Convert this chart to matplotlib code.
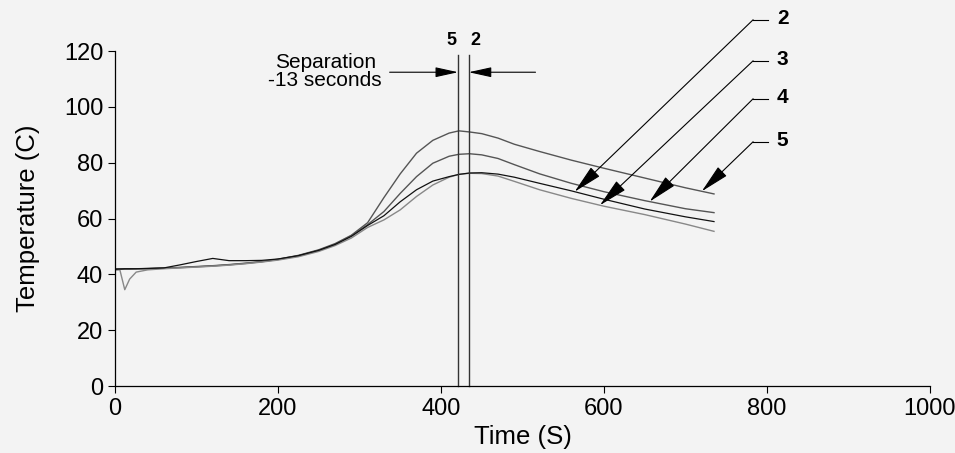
import numpy as np
import matplotlib
matplotlib.use("Agg")
import matplotlib.pyplot as plt

plt.rcParams["font.family"] = ["Liberation Sans", "DejaVu Sans"]

# sample times (s) shared by all thermocouple traces
time_s = [0, 6, 12, 18, 26, 40, 60, 80, 100, 120, 140, 160, 180, 200, 225, 250,
          270, 290, 310, 330, 350, 370, 390, 410, 422, 435, 450, 470, 490, 521,
          560, 600, 650, 700, 735]

# temperatures (C) for thermocouples 2..5
tc5 = [42.0, 42.0, 42.0, 42.0, 42.0, 42.1, 42.3, 42.5, 42.8, 43.1, 43.5, 44.0,
       44.6, 45.4, 46.8, 48.8, 51.0, 54.0, 58.5, 67.5, 76.0, 83.4, 88.0, 90.6,
       91.4, 91.0, 90.4, 88.8, 86.6, 84.0, 80.9, 78.0, 74.5, 71.0, 68.8]
tc4 = [41.8, 41.8, 41.9, 41.9, 42.0, 42.0, 42.2, 42.4, 42.7, 43.0, 43.4, 43.9,
       44.5, 45.3, 46.6, 48.6, 50.8, 53.8, 57.8, 62.5, 69.0, 75.0, 79.8, 82.3,
       83.0, 83.2, 82.8, 81.5, 79.3, 76.0, 72.6, 69.6, 66.4, 63.5, 62.1]
tc2 = [41.8, 41.9, 42.0, 42.0, 42.0, 42.1, 42.3, 43.4, 44.6, 45.7, 44.9, 44.9,
       45.0, 45.5, 46.7, 48.6, 50.7, 53.6, 57.5, 61.0, 66.0, 70.3, 73.4, 75.0,
       75.8, 76.3, 76.4, 75.9, 74.8, 72.6, 69.9, 66.9, 63.4, 60.6, 58.9]
tc3 = [41.5, 41.6, 34.5, 38.3, 40.8, 41.6, 42.0, 42.3, 42.6, 42.9, 43.3, 43.8,
       44.4, 45.1, 46.3, 48.2, 50.3, 53.0, 56.8, 59.5, 63.1, 67.9, 72.0, 74.8,
       75.8, 76.2, 76.1, 75.2, 73.3, 70.3, 67.2, 64.4, 61.4, 58.0, 55.4]

# peak times of thermocouples 5 and 2
peak5 = 421
peak2 = 434

# label -> (series, time the arrow points at, label height)
callouts = {
    "2": (tc2, 564, 131.2),
    "3": (tc3, 595, 116.5),
    "4": (tc4, 656, 102.9),
    "5": (tc5, 720, 87.5),
}

bg = "#f3f3f3"
fig = plt.figure(figsize=(9.55, 4.53), dpi=100, facecolor=bg)
ax = fig.add_axes([0.1204, 0.1479, 0.8534, 0.7395], facecolor=bg)

ax.plot(time_s, tc5, color="#555555", lw=1.0)
ax.plot(time_s, tc4, color="#555555", lw=1.0)
ax.plot(time_s, tc3, color="#888888", lw=1.0)
ax.plot(time_s, tc2, color="#111111", lw=0.9)

# peak markers
for t, lab, dx in [(peak5, "5", -8), (peak2, "2", 8)]:
    ax.plot([t, t], [0, 118.6], color="#333333", lw=1.0, clip_on=False)
    ax.text(t + dx, 123.6, lab, ha="center", va="center", fontsize=13,
            fontweight="bold", clip_on=False)

sep_y = 112.4
for t_tip, t_tail in [(peak5, 337), (peak2, 516)]:
    ax.annotate("", xy=(t_tip, sep_y), xytext=(t_tail, sep_y),
                arrowprops=dict(arrowstyle="-|>,head_length=1.0,head_width=0.22",
                                mutation_scale=14, lw=0.8, color="black",
                                shrinkA=0, shrinkB=0))
ax.text(258, 112.6, "Separation\n-13 seconds", ha="center", va="center",
        fontsize=15, linespacing=0.95)

# numbered callouts with leader lines
for lab, (series, t_tip, y_lab) in callouts.items():
    y_tip = np.interp(t_tip, time_s, series)
    ax.plot([783, 801], [y_lab, y_lab], color="black", lw=0.8, clip_on=False)
    ax.annotate("", xy=(t_tip, y_tip), xytext=(783, y_lab),
                annotation_clip=False,
                arrowprops=dict(arrowstyle="-|>,head_length=1.3,head_width=0.28",
                                mutation_scale=14, lw=0.8, color="black",
                                shrinkA=0, shrinkB=0))
    ax.text(812, y_lab + 0.3, lab, ha="left", va="center", fontsize=15,
            fontweight="bold", clip_on=False)

ax.set_xlim(0, 1000)
ax.set_ylim(0, 120)
ax.set_xticks([0, 200, 400, 600, 800, 1000])
ax.set_yticks([0, 20, 40, 60, 80, 100, 120])
ax.tick_params(labelsize=17, length=5, width=0.8, direction="out")
ax.spines["top"].set_visible(False)
ax.spines["right"].set_visible(False)
for s in ("left", "bottom"):
    ax.spines[s].set_linewidth(0.9)
ax.set_xlabel("Time (S)", fontsize=18.5, labelpad=4)
ax.set_ylabel("Temperature (C)", fontsize=18.5, labelpad=17)

fig.savefig("out.png", dpi=100, facecolor=bg)
